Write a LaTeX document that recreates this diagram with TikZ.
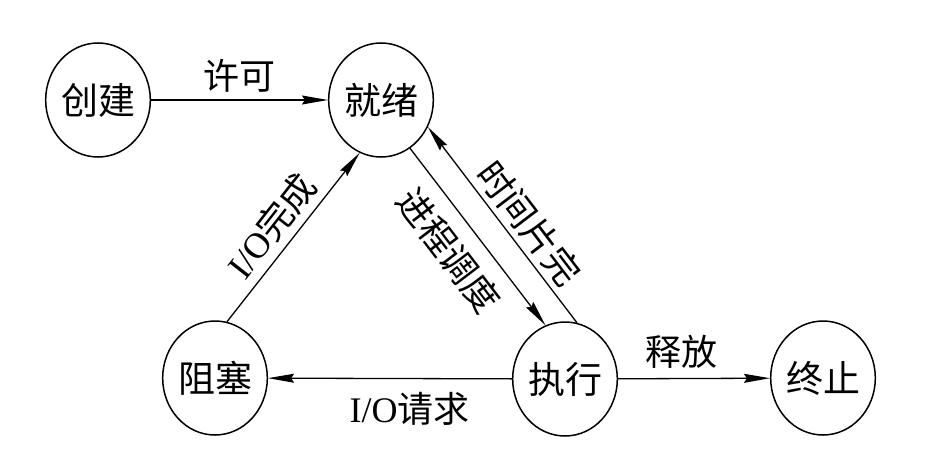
\documentclass[tikz,border=0pt]{standalone}
\usepackage{fontspec}
\setmainfont{Liberation Serif}
\newfontfamily\zhfont{Noto Sans CJK SC}
\usetikzlibrary{arrows.meta,shapes.geometric}

\begin{document}
\begin{tikzpicture}[x=1pt,y=-1pt,
  state/.style={ellipse, draw, line width=1.5pt, minimum width=104pt,
    minimum height=114pt, inner sep=0pt,
    font=\fontsize{37}{40}\selectfont\zhfont},
  flow/.style={draw, line width=1.3pt,
    -{Stealth[length=26pt,width=9pt,inset=3pt]}},
  lbl/.style={font=\fontsize{36}{40}\selectfont, inner sep=1pt}
]
\useasboundingbox[fill=white] (0,0) rectangle (934,463);

% process states
\node[state] (new)   at (98,100)  {创建};
\node[state] (ready) at (381,100) {就绪};
\node[state] (block) at (215,378) {阻塞};
\node[state] (run)   at (565,379) {执行};
\node[state] (exit)  at (823,378) {终止};

% transitions
\draw[flow] (new) -- node[lbl, above=6pt] {\zhfont 许可} (ready);
\draw[flow] (block.78) -- node[lbl, sloped, above=6pt, pos=0.48] {I/O\zhfont 完成} (ready.248);
\draw[flow] (ready.301) -- node[lbl, sloped, below=13pt, pos=0.47] {\zhfont 进程调度} (run.110);
\draw[flow] (run.78) -- node[lbl, sloped, above=4pt, pos=0.44] {\zhfont 时间片完} (ready.330);
\draw[flow] (run) -- node[lbl, below=12pt, pos=0.42] {I/O\zhfont 请求} (block);
\draw[flow] (run) -- node[lbl, above=8pt, pos=0.42] {\zhfont 释放} (exit);
\end{tikzpicture}
\end{document}
